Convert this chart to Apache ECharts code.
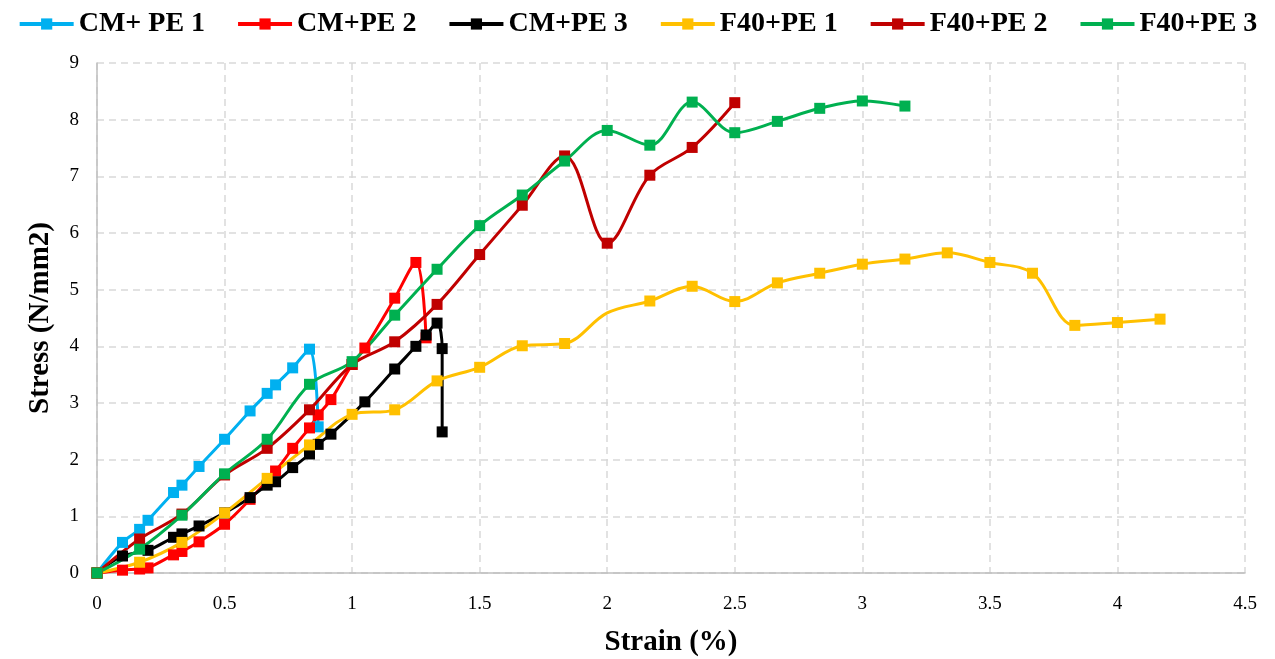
<!DOCTYPE html>
<html lang="en">
<head>
    <meta charset="UTF-8">
    <title>Stress vs Strain</title>
    <script src="https://cdn.jsdelivr.net/npm/echarts@6/dist/echarts.min.js"></script>
    <style>
        html, body { margin: 0; padding: 0; background: #fff; }
    </style>
</head>
<body>
    <div id="graph" style="width: 1275px; height: 659px;"></div>

    <script>
        // strain (%) and stress (N/mm2)
        var cmPe1X = [0, 0.1, 0.167, 0.2, 0.3, 0.333, 0.4, 0.5, 0.6, 0.667, 0.7, 0.767, 0.833, 0.867];
        var cmPe1Y = [0, 0.54, 0.77, 0.93, 1.42, 1.55, 1.88, 2.36, 2.86, 3.17, 3.32, 3.62, 3.95, 2.58];

        var cmPe2X = [0, 0.1, 0.167, 0.2, 0.3, 0.333, 0.4, 0.5, 0.6, 0.7, 0.767, 0.833, 0.867, 0.917, 1.0, 1.05, 1.167, 1.25, 1.29];
        var cmPe2Y = [0, 0.05, 0.07, 0.09, 0.32, 0.38, 0.55, 0.86, 1.3, 1.8, 2.2, 2.56, 2.79, 3.06, 3.68, 3.97, 4.85, 5.48, 4.15];

        var cmPe3X = [0, 0.1, 0.2, 0.3, 0.333, 0.4, 0.5, 0.6, 0.667, 0.7, 0.767, 0.833, 0.867, 0.917, 1.05, 1.167, 1.25, 1.29, 1.333, 1.353, 1.353];
        var cmPe3Y = [0, 0.3, 0.4, 0.63, 0.69, 0.83, 1.06, 1.33, 1.55, 1.61, 1.86, 2.1, 2.27, 2.45, 3.02, 3.6, 4.0, 4.2, 4.41, 3.96, 2.49];

        var f40Pe1X = [0, 0.167, 0.333, 0.5, 0.667, 0.833, 1.0, 1.167, 1.333, 1.5, 1.667, 1.833, 2.0, 2.167, 2.333, 2.5, 2.667, 2.833, 3.0, 3.167, 3.333, 3.5, 3.667, 3.833, 4.0, 4.167];
        var f40Pe1Y = [0, 0.19, 0.54, 1.06, 1.67, 2.26, 2.8, 2.88, 3.39, 3.63, 4.01, 4.05, 4.59, 4.8, 5.06, 4.79, 5.12, 5.29, 5.45, 5.54, 5.65, 5.48, 5.29, 4.37, 4.42, 4.48];
        var f40Pe1NoMarker = [2.0];   // this point has no marker in the picture

        var f40Pe2X = [0, 0.167, 0.333, 0.5, 0.667, 0.833, 1.0, 1.167, 1.333, 1.5, 1.667, 1.833, 2.0, 2.167, 2.333, 2.5];
        var f40Pe2Y = [0, 0.6, 1.04, 1.73, 2.2, 2.88, 3.68, 4.08, 4.74, 5.62, 6.49, 7.36, 5.82, 7.02, 7.51, 8.3];

        var f40Pe3X = [0, 0.167, 0.333, 0.5, 0.667, 0.833, 1.0, 1.167, 1.333, 1.5, 1.667, 1.833, 2.0, 2.167, 2.333, 2.5, 2.667, 2.833, 3.0, 3.167];
        var f40Pe3Y = [0, 0.42, 1.02, 1.75, 2.36, 3.33, 3.73, 4.55, 5.36, 6.13, 6.67, 7.27, 7.81, 7.55, 8.31, 7.77, 7.97, 8.2, 8.33, 8.24];

        var seriesNames = ['CM+ PE 1', 'CM+PE 2', 'CM+PE 3', 'F40+PE 1', 'F40+PE 2', 'F40+PE 3'];
        var seriesColors = ['#00b0f0', '#ff0000', '#000000', '#ffc000', '#c00000', '#00b050'];
        var seriesX = [cmPe1X, cmPe2X, cmPe3X, f40Pe1X, f40Pe2X, f40Pe3X];
        var seriesY = [cmPe1Y, cmPe2Y, cmPe3Y, f40Pe1Y, f40Pe2Y, f40Pe3Y];

        var xTicks = { min: 0, max: 4.5, interval: 0.5 };
        var yTicks = { min: 0, max: 9, interval: 1 };

        var font = 'Liberation Serif';
        var myChart = echarts.init(document.getElementById('graph'));

        function pairs(i) {
            var out = [];
            for (var k = 0; k < seriesX[i].length; k++) {
                var item = { value: [seriesX[i][k], seriesY[i][k]] };
                if (i == 3 && f40Pe1NoMarker.indexOf(seriesX[i][k]) >= 0) item.symbol = 'none';
                out.push(item);
            }
            return out;
        }

        var s = [];
        for (var i = 0; i < seriesNames.length; i++) {
            s.push({
                name: seriesNames[i],
                type: 'line',
                data: pairs(i),
                smooth: 0.35,
                symbol: 'rect',
                symbolSize: 11,
                color: seriesColors[i],
                lineStyle: { width: 3 },
                itemStyle: { color: seriesColors[i] }
            });
        }

        var splitStyle = { show: true, lineStyle: { color: '#d9d9d9', width: 1.5, type: [7, 5] } };
        var axisLineStyle = { show: true, lineStyle: { color: '#bfbfbf', width: 1.5 } };

        var option = {
            animation: false,
            legend: {
                data: seriesNames,
                top: 5,
                left: 'center',
                itemWidth: 54,
                itemHeight: 14,
                itemGap: 31,
                lineStyle: { width: 4 },
                textStyle: { fontFamily: font, fontWeight: 'bold', fontSize: 28, color: '#000' }
            },
            grid: { left: 97, right: 30, top: 63, bottom: 86, outerBoundsMode: 'none' },
            xAxis: {
                type: 'value',
                min: xTicks.min, max: xTicks.max, interval: xTicks.interval,
                name: 'Strain (%)',
                nameLocation: 'middle',
                nameGap: 55,
                nameTextStyle: { fontFamily: font, fontWeight: 'bold', fontSize: 29, color: '#000' },
                axisLine: axisLineStyle,
                axisTick: { show: false },
                axisLabel: { fontFamily: font, fontSize: 19, color: '#000', margin: 22 },
                splitLine: splitStyle
            },
            yAxis: {
                type: 'value',
                min: yTicks.min, max: yTicks.max, interval: yTicks.interval,
                name: 'Stress (N/mm2)',
                nameLocation: 'middle',
                nameGap: 42,
                nameTextStyle: { fontFamily: font, fontWeight: 'bold', fontSize: 29, color: '#000' },
                axisLine: axisLineStyle,
                axisTick: { show: false },
                axisLabel: { fontFamily: font, fontSize: 19, color: '#000', margin: 18 },
                splitLine: splitStyle
            },
            series: s
        };
        myChart.setOption(option);
    </script>
</body>
</html>
